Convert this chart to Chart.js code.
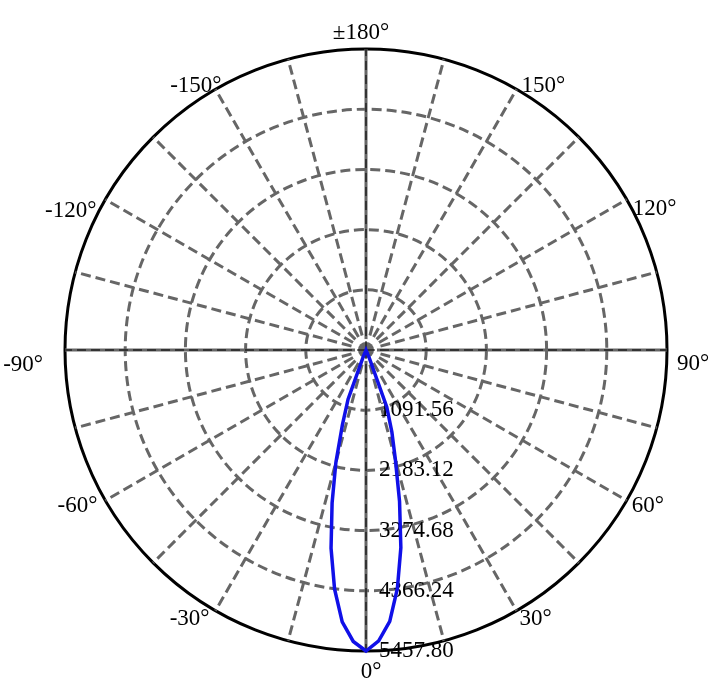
<!DOCTYPE html>
<html>
<head>
<meta charset="utf-8">
<script src="https://cdn.jsdelivr.net/npm/chart.js@4.4.0/dist/chart.umd.min.js"></script>
<style>
  html, body { margin: 0; padding: 0; background: #fff; }
  #wrap { width: 728px; height: 692px; position: relative; }
</style>
</head>
<body>
<div id="wrap"><canvas id="polar"></canvas></div>
<script>
// intensity of the beam (outside this range the curve sits at the centre)
const beamAngles = [-25, -22.5, -20, -17.5, -15, -12.5, -10, -7.5, -5, -2.5, 0, 2.5, 5, 7.5, 10, 12.5, 15, 17.5, 20, 22.5, 25];
const beamValues = [0, 120, 950, 1420, 2110, 2840, 3650, 4370, 4950, 5290, 5457.8, 5280, 4940, 4360, 3640, 2810, 2060, 1560, 1100, 150, 0];

const tickLabels = ['1091.56', '2183.12', '3274.68', '4366.24', '5457.80'];
const tickStep = 1091.56;
const maxValue = 5457.80;

const angleTicks = [0, 30, 60, 90, 120, 150, 180, -150, -120, -90, -60, -30];
const angleTickLabels = ['0°', '30°', '60°', '90°', '120°', '150°', '±180°', '-150°', '-120°', '-90°', '-60°', '-30°'];
const stepDeg = 2.5;

// radar categories: start at 0° (bottom) and go clockwise through -90° to ±180° and back via 90°
const categories = [];
for (let i = 0; i < 360 / stepDeg; i++) {
  let a = -i * stepDeg;
  if (a <= -180) a += 360;
  categories.push(a);
}
const intensity = categories.map(a => {
  const k = beamAngles.indexOf(a);
  return k >= 0 ? beamValues[k] : 0;
});

// where each angle label sits relative to the end of its spoke
const labelNudge = {
  '0': [5, 21, 'center'], '180': [-5, -16, 'center'],
  '30': [3, 8, 'left'], '60': [5, 5, 'left'], '90': [10, 14, 'left'],
  '120': [6, 9, 'left'], '150': [5, -3, 'left'],
  '-30': [-6, 8, 'right'], '-60': [-8, 5, 'right'], '-90': [-22, 15, 'right'],
  '-120': [-9, 11, 'right'], '-150': [6, -3, 'right']
};

const polarText = {
  id: 'polarText',
  beforeDatasetsDraw(chart) {
    const r = chart.scales.r;
    const ctx = chart.ctx;
    ctx.save();
    // hub where the spokes meet
    ctx.fillStyle = '#fff';
    ctx.beginPath();
    ctx.arc(r.xCenter, r.yCenter, 11, 0, Math.PI * 2);
    ctx.fill();
    ctx.fillStyle = '#666';
    ctx.beginPath();
    ctx.arc(r.xCenter, r.yCenter, 8, 0, Math.PI * 2);
    ctx.fill();

    // thin black dashes running along the main axes
    ctx.strokeStyle = '#000';
    ctx.lineWidth = 1;
    ctx.setLineDash([9, 5]);
    [0, 90, 180, -90].forEach(a => {
      const p = r.getPointPosition(categories.indexOf(a), r.drawingArea);
      ctx.beginPath();
      ctx.moveTo(r.xCenter, r.yCenter);
      ctx.lineTo(p.x, p.y);
      ctx.stroke();
    });
    ctx.setLineDash([]);

    ctx.fillStyle = '#000';
    ctx.font = '23px "Liberation Serif", "Times New Roman", serif';
    ctx.textBaseline = 'middle';
    ctx.textAlign = 'left';
    const down = categories.indexOf(0);
    tickLabels.forEach(t => {
      const p = r.getPointPosition(down, r.getDistanceFromCenterForValue(parseFloat(t)));
      ctx.fillText(t, p.x + 13, p.y);
    });

    angleTicks.forEach((a, k) => {
      const p = r.getPointPosition(categories.indexOf(a), r.drawingArea);
      const n = labelNudge[String(a)];
      ctx.textAlign = n[2];
      ctx.fillText(angleTickLabels[k], p.x + n[0], p.y + n[1]);
    });
    ctx.restore();
  }
};

const isOuter = c => c.tick && c.tick.value >= maxValue - 0.001;

new Chart(document.getElementById('polar'), {
  type: 'radar',
  data: {
    labels: categories.map(a => a + '°'),
    datasets: [{
      data: intensity,
      borderColor: '#1010e8',
      borderWidth: 3.5,
      pointRadius: 0,
      pointHoverRadius: 0,
      fill: false,
      tension: 0
    }]
  },
  options: {
    responsive: true,
    maintainAspectRatio: false,
    animation: false,
    events: [],
    layout: { padding: { left: 65, top: 49, right: 61, bottom: 41 } },
    plugins: { legend: { display: false }, tooltip: { enabled: false } },
    scales: {
      r: {
        startAngle: 180,
        min: 0,
        max: maxValue,
        ticks: { display: false, stepSize: tickStep },
        pointLabels: { display: false },
        grid: {
          circular: true,
          color: c => isOuter(c) ? '#000' : '#666',
          lineWidth: 3
        },
        border: { dash: c => isOuter(c) ? [] : [10, 5] },
        angleLines: {
          color: '#666',
          lineWidth: c => c.index % 6 === 0 ? 3 : 0,
          borderDash: c => c.index % 36 === 0 ? [] : [10, 5]
        }
      }
    }
  },
  plugins: [polarText]
});
</script>
</body>
</html>
